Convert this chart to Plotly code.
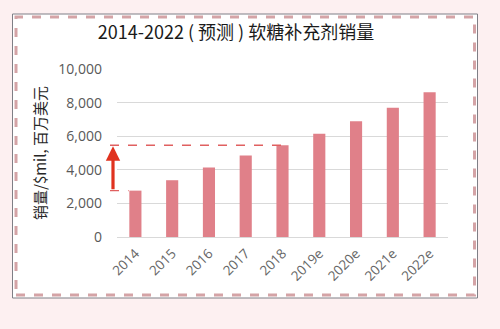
import plotly.graph_objects as go

# Gummy supplement sales, USD million (e = estimate)
years = ["2014", "2015", "2016", "2017", "2018", "2019e", "2020e", "2021e", "2022e"]
sales = [2760, 3380, 4130, 4850, 5460, 6150, 6890, 7700, 8610]
y_ticks = [0, 2000, 4000, 6000, 8000, 10000]

title_text = "2014-2022 ( 预测 ) 软糖补充剂销量"
y_title = "销量/$mil, 百万美元"

BAR = "#e08089"
ARROW = "#e0321f"
GUIDE = "#e06060"
FRAME_DASH = "#d4a3a6"
PAGE_BG = "#fdf0f1"

W, H = 500, 329
L, R, T, B = 117, 52, 69, 92
pw, ph = W - L - R, H - T - B


def px_x(p):
    return (p - L) / pw


def px_y(p):
    return (H - B - p) / ph


n = len(years)
bargap = 0.67


def cat_paper(i, offset=0.0):
    return (i + 0.5 + offset) / n


fig = go.Figure(
    go.Bar(x=years, y=sales, marker_color=BAR, marker_line_width=0)
)

shapes = [
    # white card with a thin grey edge
    dict(type="rect", xref="paper", yref="paper", layer="below",
         x0=px_x(12.5), x1=px_x(477.5), y0=px_y(298), y1=px_y(14),
         fillcolor="white", line=dict(color="#7f7f86", width=1)),
    # dashed pink inner border
    dict(type="rect", xref="paper", yref="paper", layer="below",
         x0=px_x(16), x1=px_x(474.5), y0=px_y(295), y1=px_y(17),
         fillcolor="rgba(0,0,0,0)",
         line=dict(color=FRAME_DASH, width=3, dash="dash")),
    # guide lines at the 2014 and 2018 levels
    dict(type="line", xref="paper", yref="y",
         x0=px_x(110), x1=cat_paper(0, -(1 - bargap) / 2 - 0.02),
         y0=sales[0], y1=sales[0],
         line=dict(color=GUIDE, width=1.3, dash="dash")),
    dict(type="line", xref="paper", yref="y",
         x0=px_x(110), x1=cat_paper(4),
         y0=sales[4], y1=sales[4],
         line=dict(color=GUIDE, width=1.3, dash="dash")),
]

annotations = [
    dict(xref="paper", yref="y", x=px_x(113), y=sales[4] - 60,
         axref="pixel", ayref="y", ax=0, ay=sales[0],
         showarrow=True, arrowhead=2, arrowsize=0.9, arrowwidth=3.2,
         arrowcolor=ARROW, text=""),
]

fig.update_layout(
    width=W, height=H,
    margin=dict(l=L, r=R, t=T, b=B),
    paper_bgcolor=PAGE_BG,
    plot_bgcolor="white",
    showlegend=False,
    bargap=bargap,
    shapes=shapes,
    annotations=annotations,
    title=dict(text=title_text, xref="container", yref="container",
               x=236 / W, y=1 - 33 / H, xanchor="center", yanchor="middle",
               font=dict(family="Noto Sans CJK SC", size=18, color="#1a1a1a")),
    font=dict(family="Open Sans, Noto Sans CJK SC", color="#595959"),
)

fig.update_yaxes(
    range=[0, 10000], tickvals=y_ticks, tickformat=",",
    showgrid=True, gridcolor="#d9d9d9", gridwidth=1,
    zeroline=True, zerolinecolor="#d9d9d9", zerolinewidth=1,
    showline=False, ticks="", ticklabelstandoff=14,
    tickfont=dict(size=14, color="#595959"),
    title=dict(text=y_title, standoff=8,
               font=dict(family="Noto Sans CJK SC", size=15, color="#262626")),
)
fig.update_xaxes(
    type="category", tickangle=-45, showgrid=False, showline=False,
    ticks="", ticklabelstandoff=5,
    tickfont=dict(size=13.5, color="#666666"),
)

fig.write_html("out.html")
